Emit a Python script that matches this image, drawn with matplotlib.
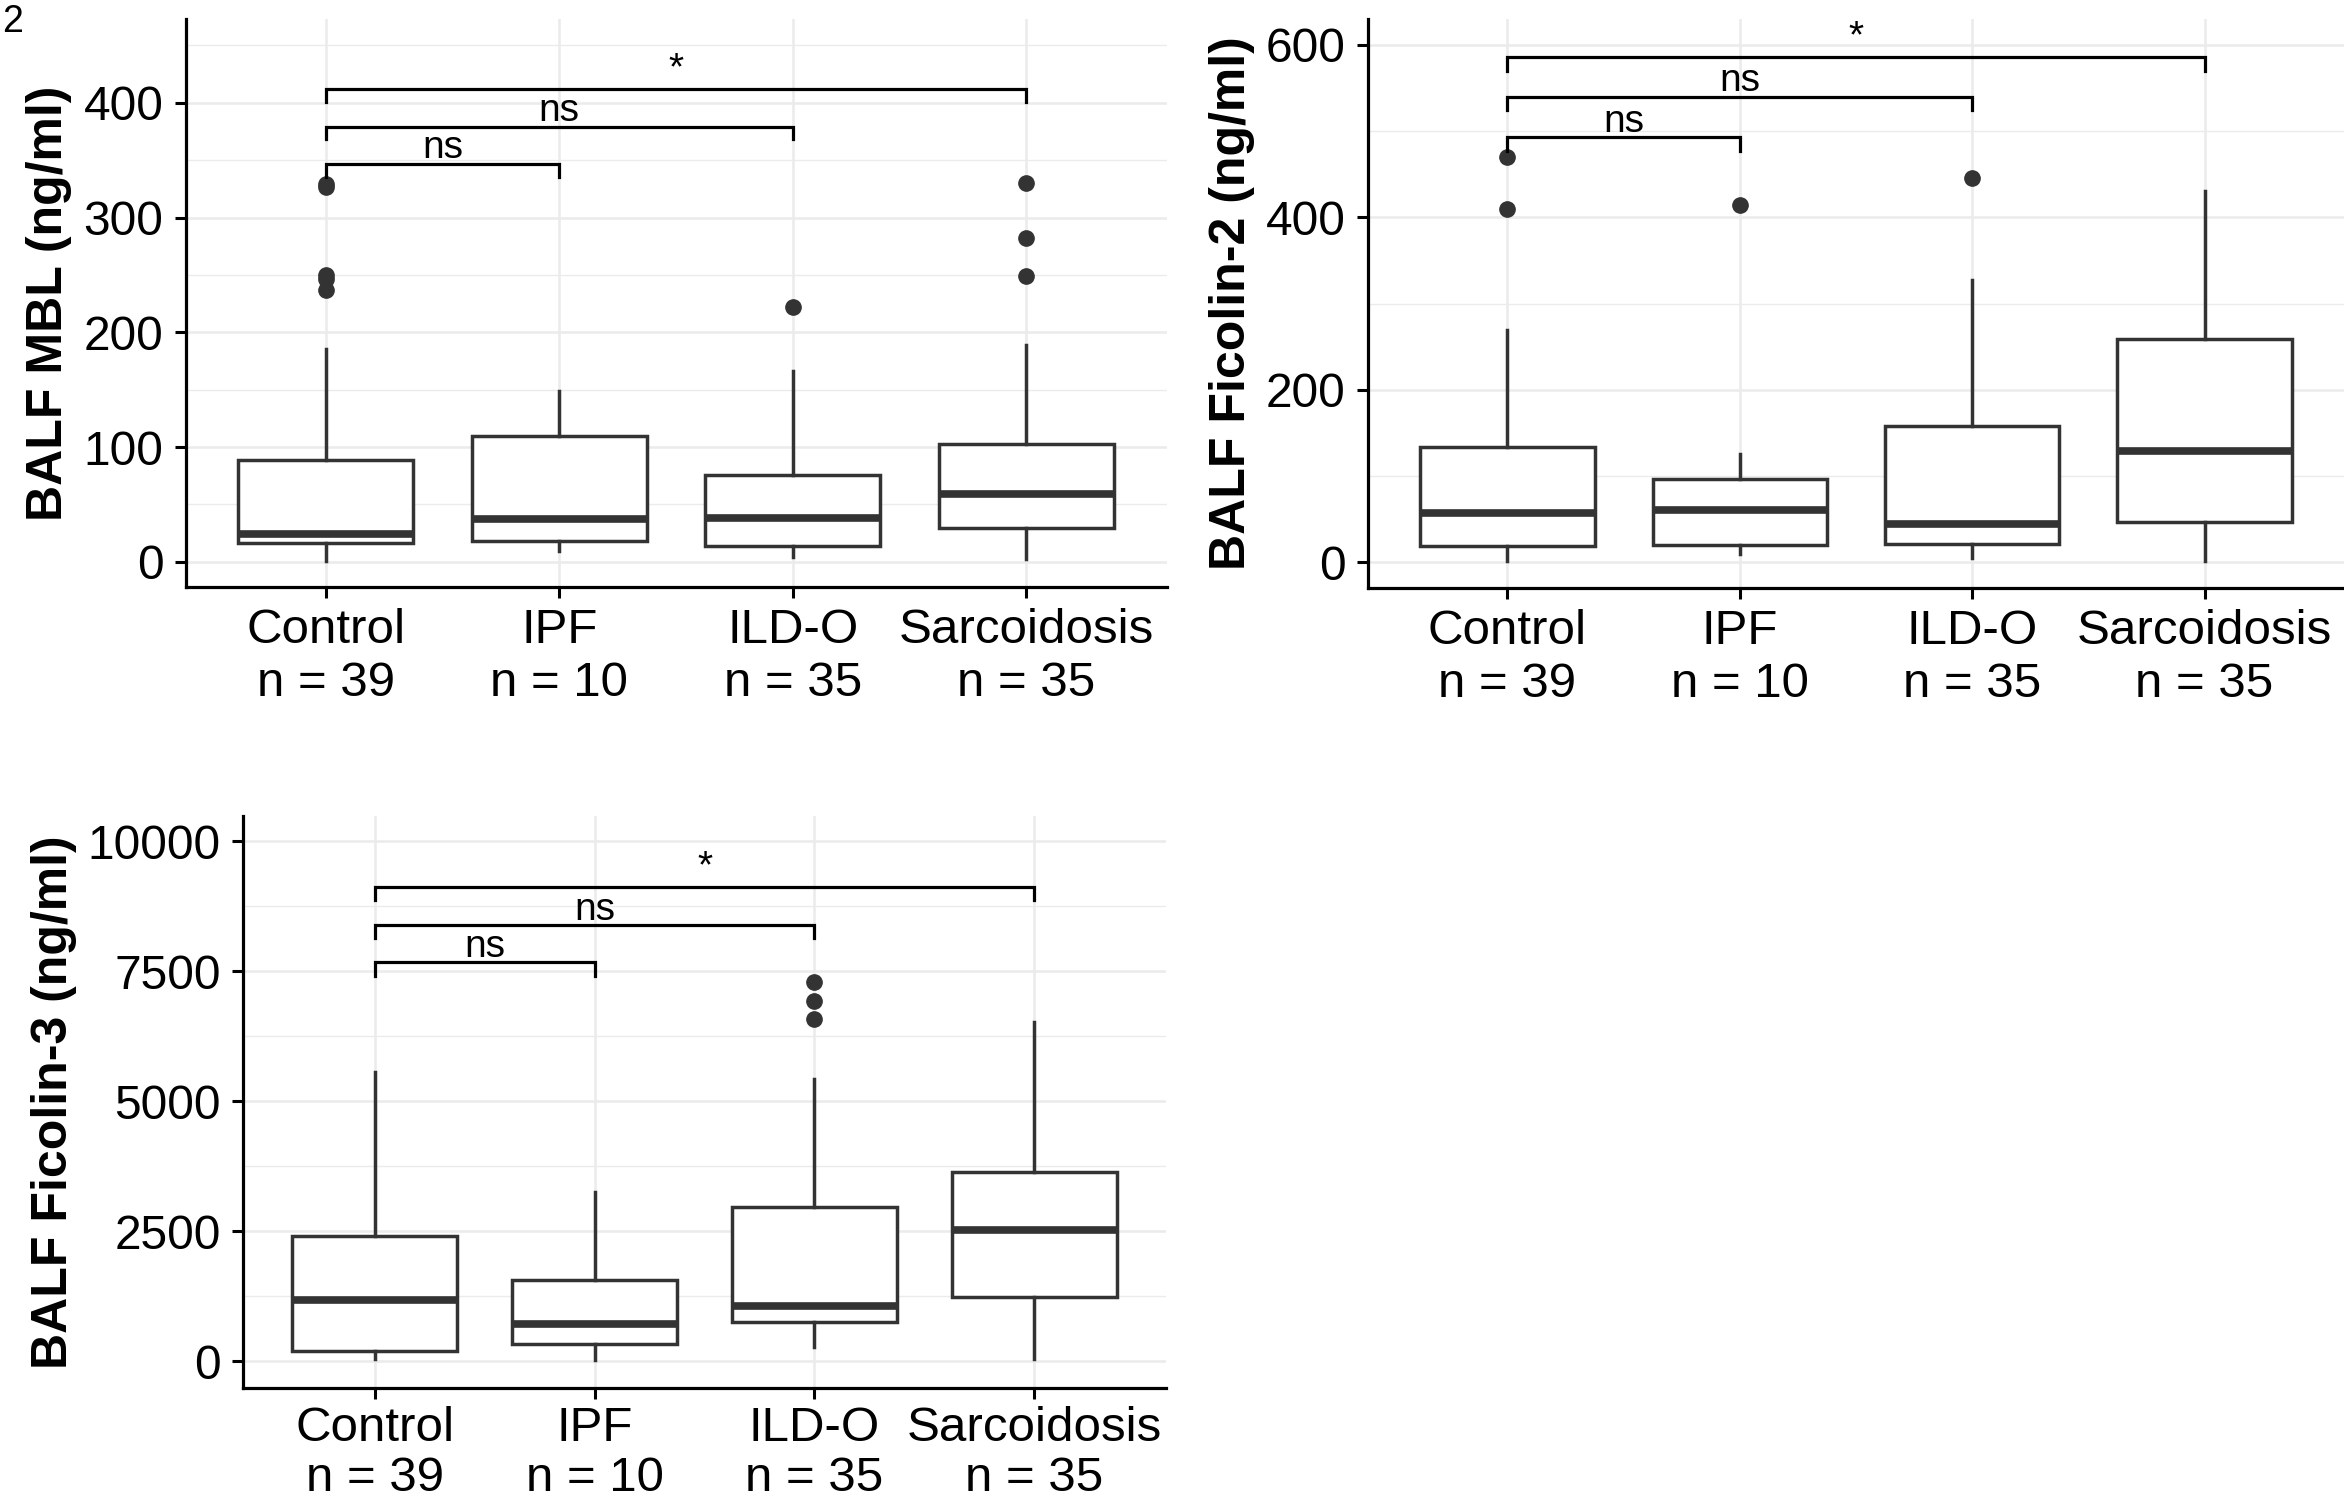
import matplotlib
matplotlib.use('Agg')
import matplotlib.pyplot as plt
from matplotlib.ticker import MultipleLocator

plt.rcParams['font.family'] = ['Liberation Sans', 'DejaVu Sans']

# ---------------- data ----------------
groups = ["Control", "IPF", "ILD-O", "Sarcoidosis"]
group_n = [39, 10, 35, 35]

# MBL (ng/ml): whislo, q1, median, q3, whishi
mbl_whislo = [1, 9, 4, 2]
mbl_q1 = [16, 18, 14, 29]
mbl_med = [24, 37, 38, 59]
mbl_q3 = [89, 110, 76, 103]
mbl_whishi = [185, 149, 166, 189]
mbl_fliers = [[327, 329, 250, 246, 237], [], [222], [330, 282, 249]]
mbl_brackets = [(1, 2, 347, 335, "ns"), (1, 3, 379, 368, "ns"), (1, 4, 412, 401, "*")]

# Ficolin-2 (ng/ml)
fic2_whislo = [1, 10, 5, 1]
fic2_q1 = [19, 20, 21, 47]
fic2_med = [57, 61, 44, 129]
fic2_q3 = [134, 97, 158, 259]
fic2_whishi = [269, 126, 327, 430]
fic2_fliers = [[470, 410], [414], [445], []]
fic2_brackets = [(1, 2, 493, 477, "ns"), (1, 3, 540, 524, "ns"), (1, 4, 586, 570, "*")]

# Ficolin-3 (ng/ml)
fic3_whislo = [44, 27, 284, 44]
fic3_q1 = [204, 328, 754, 1242]
fic3_med = [1180, 710, 1065, 2529]
fic3_q3 = [2413, 1570, 2972, 3638]
fic3_whishi = [5572, 3256, 5430, 6522]
fic3_fliers = [[], [], [7294, 6939, 6584], []]
fic3_brackets = [(1, 2, 7675, 7409, "ns"), (1, 3, 8385, 8137, "ns"), (1, 4, 9121, 8873, "*")]

W, H = 2344, 1500
fig = plt.figure(figsize=(W / 100, H / 100), dpi=100)

EDGE = '#333333'
GRID = '#EBEBEB'


def rect_px(left, right, top, bottom):
    return [left / W, 1 - bottom / H, (right - left) / W, (bottom - top) / H]


def panel(rect, whislo, q1, med, q3, whishi, fliers, brackets, ylim, major, minor, ylabel,
          labelpad, xpad=7, lsp=1.24):
    ax = fig.add_axes(rect)
    stats = []
    for i in range(len(groups)):
        stats.append(dict(whislo=whislo[i], q1=q1[i], med=med[i], q3=q3[i],
                          whishi=whishi[i], fliers=fliers[i]))
    ax.bxp(stats, positions=[1, 2, 3, 4], widths=0.75, patch_artist=True,
           showcaps=False,
           boxprops=dict(facecolor='white', edgecolor=EDGE, linewidth=2.5),
           medianprops=dict(color=EDGE, linewidth=5.5, solid_capstyle='butt'),
           whiskerprops=dict(color=EDGE, linewidth=2.5),
           flierprops=dict(marker='o', markerfacecolor=EDGE, markeredgecolor=EDGE,
                           markersize=11))
    ax.set_xlim(0.4, 4.6)
    ax.set_ylim(*ylim)
    ax.yaxis.set_major_locator(MultipleLocator(major))
    ax.yaxis.set_minor_locator(MultipleLocator(minor))
    ax.set_axisbelow(True)
    ax.grid(which='major', color=GRID, linewidth=1.8)
    ax.grid(which='minor', axis='y', color=GRID, linewidth=1.0)
    for s in ['top', 'right']:
        ax.spines[s].set_visible(False)
    for s in ['left', 'bottom']:
        ax.spines[s].set_linewidth(2.3)
        ax.spines[s].set_color('black')
    ax.tick_params(which='major', length=8, width=2.2, colors='black')
    ax.tick_params(axis='y', pad=8, labelsize=34.5)
    ax.tick_params(axis='x', pad=xpad, labelsize=35.5)
    ax.tick_params(which='minor', length=0)
    ax.set_xticks([1, 2, 3, 4])
    ax.set_xticklabels([f"{g}\nn = {n}" for g, n in zip(groups, group_n)], linespacing=lsp)
    ax.set_ylabel(ylabel, fontsize=36, fontweight='bold', labelpad=labelpad)
    for x1, x2, y, tip, lab in brackets:
        ax.plot([x1, x1, x2, x2], [tip, y, y, tip], color='black', linewidth=2.3,
                solid_joinstyle='miter', clip_on=False)
        off = 7 if lab == "*" else 4
        ax.annotate(lab, xy=((x1 + x2) / 2, y), xytext=(0, off), textcoords='offset points',
                    ha='center', va='baseline', fontsize=28)
    return ax


panel(rect_px(185.5, 1166.5, 19, 587), mbl_whislo, mbl_q1, mbl_med, mbl_q3, mbl_whishi,
      mbl_fliers, mbl_brackets, (-22, 473), 100, 50, "BALF MBL (ng/ml)", 8)
panel(rect_px(1368, 2344, 19, 588), fic2_whislo, fic2_q1, fic2_med, fic2_q3, fic2_whishi,
      fic2_fliers, fic2_brackets, (-30, 630), 200, 100, "BALF Ficolin-2 (ng/ml)", 8)
panel(rect_px(243, 1166, 816, 1388), fic3_whislo, fic3_q1, fic3_med, fic3_q3, fic3_whishi,
      fic3_fliers, fic3_brackets, (-513, 10490), 2500, 1250, "BALF Ficolin-3 (ng/ml)", 8,
      xpad=5, lsp=1.15)

fig.text(2 / W, 1 - 22 / H, "2", fontsize=27, ha='left', va='center')

fig.savefig('out.png', dpi=100)
